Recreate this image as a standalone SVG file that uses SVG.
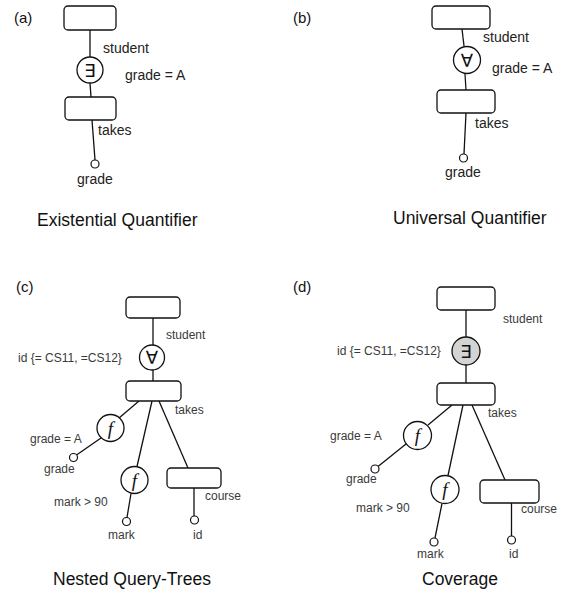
<svg xmlns="http://www.w3.org/2000/svg" width="565" height="598" viewBox="0 0 565 598">
<style>
.box{fill:#fff;stroke:#111;stroke-width:1.3}
.q{fill:#fff;stroke:#111;stroke-width:1.3}
.qg{fill:#d4d4d4;stroke:#111;stroke-width:1.3}
.leaf{fill:#fff;stroke:#111;stroke-width:1.2}
.edge{stroke:#111;stroke-width:1.3;fill:none}
text{font-family:"Liberation Sans",Arial,Helvetica,sans-serif}
.lbl{font-size:14px;fill:#222}
.sm{font-size:12px;fill:#3a3a3a}
.pl{font-size:15px;fill:#111}
.ttl{font-size:17.5px;fill:#111}
.sym{font-family:"DejaVu Sans",sans-serif;font-size:18px;fill:#111;text-anchor:middle}
.fn{font-family:"Liberation Serif","DejaVu Serif",serif;font-style:italic;font-size:19px;fill:#111;text-anchor:middle}
</style>
<g id="connectors">
<line class="edge" x1="90" y1="30" x2="90" y2="57"/>
<line class="edge" x1="90" y1="83" x2="91" y2="97"/>
<line class="edge" x1="92" y1="120" x2="95" y2="160"/>
<line class="edge" x1="462" y1="29" x2="464" y2="46"/>
<line class="edge" x1="465" y1="74" x2="466" y2="90"/>
<line class="edge" x1="466" y1="113" x2="464" y2="154"/>
<line class="edge" x1="153" y1="318" x2="153" y2="345"/>
<line class="edge" x1="153" y1="370" x2="153" y2="381"/>
<line class="edge" x1="139" y1="401" x2="119" y2="418"/>
<line class="edge" x1="101" y1="438" x2="76.5" y2="455"/>
<line class="edge" x1="152" y1="401" x2="137" y2="466.5"/>
<line class="edge" x1="131" y1="493.5" x2="127" y2="517.5"/>
<line class="edge" x1="159" y1="401" x2="188" y2="468"/>
<line class="edge" x1="194" y1="488" x2="194" y2="516"/>
<line class="edge" x1="466" y1="310" x2="466" y2="337"/>
<line class="edge" x1="466" y1="365" x2="466" y2="383"/>
<line class="edge" x1="452" y1="405" x2="428" y2="425"/>
<line class="edge" x1="406" y1="444" x2="378" y2="466.5"/>
<line class="edge" x1="463" y1="405" x2="448" y2="475.5"/>
<line class="edge" x1="442" y1="503.5" x2="435" y2="538"/>
<line class="edge" x1="472" y1="405" x2="505" y2="480"/>
<line class="edge" x1="511.5" y1="503" x2="511.5" y2="536"/>
</g>
<g id="panel-a">
<text class="pl" x="14" y="23">(a)</text>
<g id="a-student"><rect class="box" x="64" y="6" width="52" height="24" rx="4"/><text class="lbl" x="103" y="53">student</text></g>
<g id="a-exists"><circle class="q" cx="90" cy="70" r="13"/><text class="sym" x="90" y="76.5">∃</text><text class="lbl" x="125" y="80">grade = A</text></g>
<g id="a-takes"><rect class="box" x="65" y="97" width="51" height="23" rx="4"/><text class="lbl" x="98" y="135">takes</text></g>
<g id="a-grade"><circle class="leaf" cx="95" cy="164" r="4"/><text class="lbl" x="77" y="184">grade</text></g>
<text class="ttl" x="37" y="226">Existential Quantifier</text>
</g>
<g id="panel-b">
<text class="pl" x="293" y="23">(b)</text>
<g id="b-student"><rect class="box" x="432" y="6" width="58" height="23" rx="4"/><text class="lbl" x="483" y="42">student</text></g>
<g id="b-forall"><circle class="q" cx="467" cy="60" r="13.5"/><text class="sym" x="467" y="66.5">∀</text><text class="lbl" x="492" y="73">grade = A</text></g>
<g id="b-takes"><rect class="box" x="437" y="90" width="58" height="23" rx="4"/><text class="lbl" x="475" y="128">takes</text></g>
<g id="b-grade"><circle class="leaf" cx="463.5" cy="158" r="4"/><text class="lbl" x="445" y="177">grade</text></g>
<text class="ttl" x="393" y="224">Universal Quantifier</text>
</g>
<g id="panel-c">
<text class="pl" x="16" y="292">(c)</text>
<g id="c-student"><rect class="box" x="126" y="297" width="54" height="21" rx="4"/><text class="sm" x="166" y="339">student</text></g>
<g id="c-forall"><circle class="q" cx="152" cy="357.5" r="12.5"/><text class="sym" x="152" y="364">∀</text><text class="sm" x="18" y="362">id {= CS11, =CS12}</text></g>
<g id="c-takes"><rect class="box" x="126" y="381" width="55" height="20" rx="4"/><text class="sm" x="175" y="414">takes</text></g>
<g id="c-f1"><circle class="q" cx="110.5" cy="428" r="13.5"/><text class="fn" x="110.5" y="434.5">f</text><text class="sm" x="30" y="443">grade = A</text></g>
<g id="c-grade"><circle class="leaf" cx="73.5" cy="457.5" r="4"/><text class="sm" x="44" y="473">grade</text></g>
<g id="c-f2"><circle class="q" cx="134.5" cy="480" r="13.5"/><text class="fn" x="134.5" y="486.5">f</text><text class="sm" x="54" y="506">mark &gt; 90</text></g>
<g id="c-mark"><circle class="leaf" cx="126.5" cy="521.5" r="4"/><text class="sm" x="108" y="539">mark</text></g>
<g id="c-course"><rect class="box" x="167" y="468" width="54" height="20" rx="4"/><text class="sm" x="205" y="500">course</text></g>
<g id="c-id"><circle class="leaf" cx="194.5" cy="520" r="4"/><text class="sm" x="193" y="539">id</text></g>
<text class="ttl" x="53" y="585">Nested Query-Trees</text>
</g>
<g id="panel-d">
<text class="pl" x="293" y="292">(d)</text>
<g id="d-student"><rect class="box" x="437" y="287" width="58" height="23" rx="4"/><text class="sm" x="503" y="323">student</text></g>
<g id="d-exists"><circle class="qg" cx="466" cy="351" r="14"/><text class="sym" x="466" y="357.5">∃</text><text class="sm" x="337" y="355">id {= CS11, =CS12}</text></g>
<g id="d-takes"><rect class="box" x="437" y="383" width="58" height="22" rx="4"/><text class="sm" x="488" y="417">takes</text></g>
<g id="d-f1"><circle class="q" cx="417.5" cy="435.5" r="14"/><text class="fn" x="417.5" y="442">f</text><text class="sm" x="330" y="440">grade = A</text></g>
<g id="d-grade"><circle class="leaf" cx="375" cy="469" r="4"/><text class="sm" x="346" y="483">grade</text></g>
<g id="d-f2"><circle class="q" cx="445" cy="489.5" r="14"/><text class="fn" x="445" y="496">f</text><text class="sm" x="356" y="512">mark &gt; 90</text></g>
<g id="d-mark"><circle class="leaf" cx="434" cy="542" r="4"/><text class="sm" x="417" y="558">mark</text></g>
<g id="d-course"><rect class="box" x="480" y="480" width="59" height="23" rx="4"/><text class="sm" x="521" y="513">course</text></g>
<g id="d-id"><circle class="leaf" cx="511.5" cy="540" r="4"/><text class="sm" x="509" y="558">id</text></g>
<text class="ttl" x="422" y="585">Coverage</text>
</g>
</svg>
